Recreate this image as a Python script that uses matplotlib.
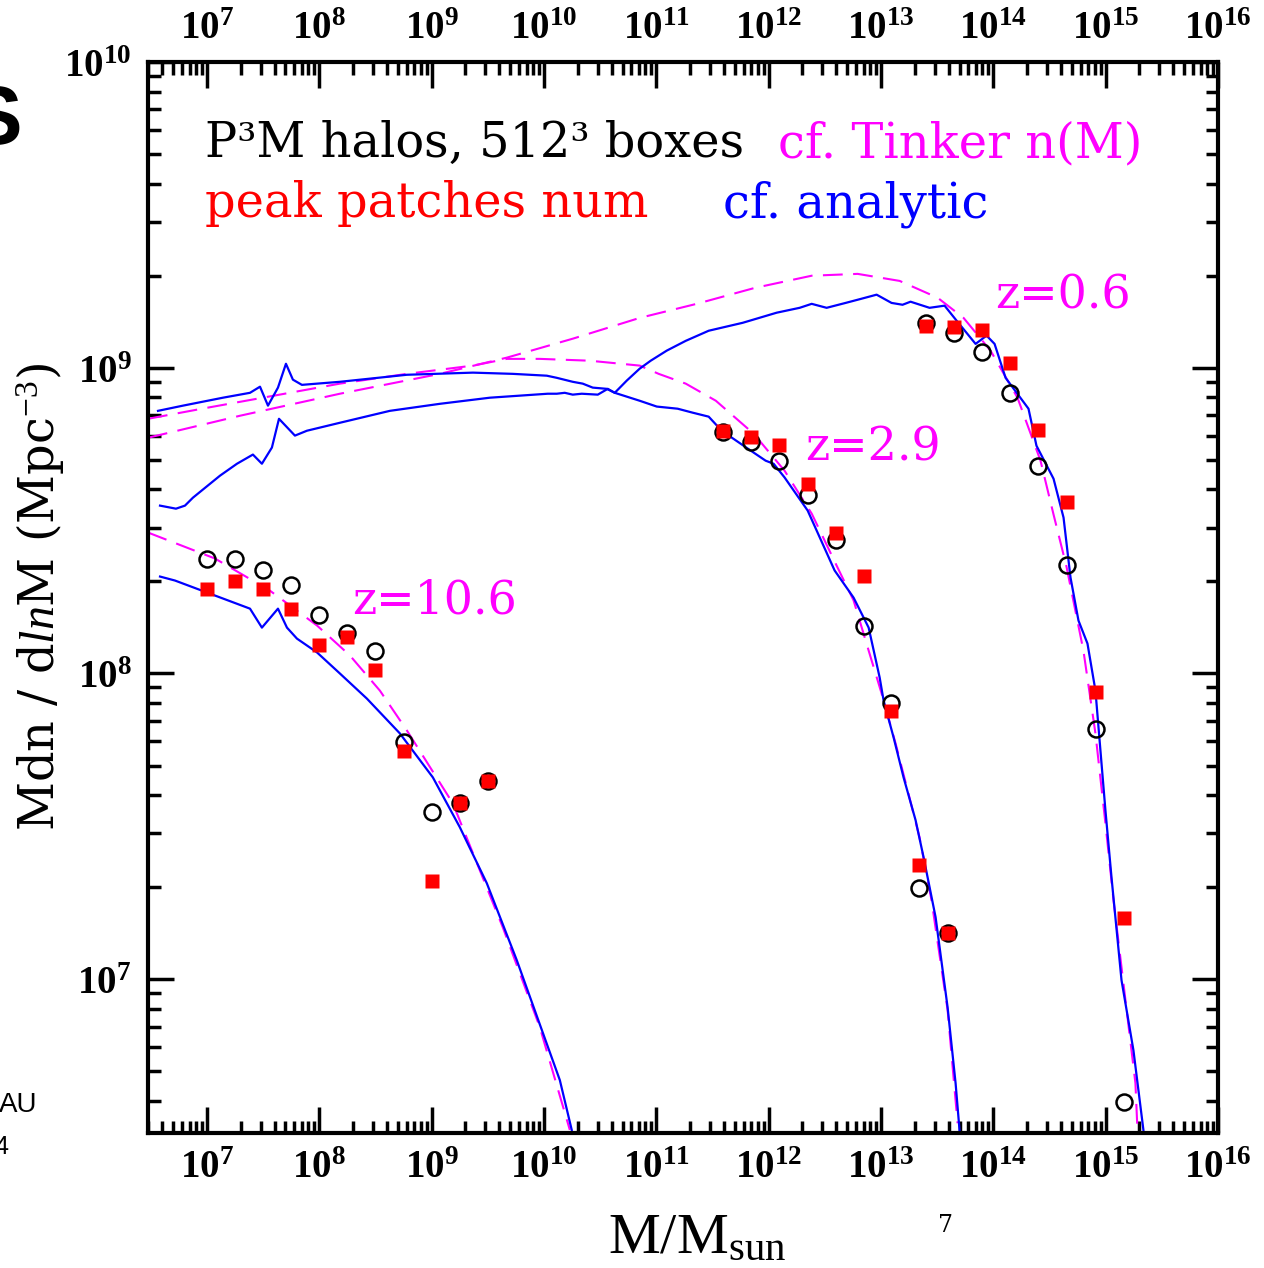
import numpy as np
import matplotlib
matplotlib.use('Agg')
import matplotlib.pyplot as plt
from matplotlib.ticker import LogLocator, FuncFormatter, NullFormatter

plt.rcParams['mathtext.fontset'] = 'custom'
plt.rcParams['mathtext.rm'] = 'Liberation Serif'
plt.rcParams['mathtext.it'] = 'Liberation Serif:italic'
plt.rcParams['mathtext.bf'] = 'Liberation Serif:bold'

# halo counts from the P3M runs (log10 M, log10 M dn/dlnM)
lm_z106 = [7.0, 7.25, 7.5, 7.75, 8.0, 8.25, 8.5, 8.75, 9.0, 9.25, 9.5]
lf_p3m_z106 = [8.373, 8.373, 8.337, 8.291, 8.190, 8.131, 8.072, 7.775, 7.546, 7.575, 7.647]
lf_pk_z106 = [8.275, 8.301, 8.275, 8.212, 8.092, 8.118, 8.010, 7.745, 7.320, 7.575, 7.647]

lm_z29 = [11.59, 11.84, 12.09, 12.35, 12.60, 12.85, 13.09, 13.34, 13.60]
lf_p3m_z29 = [8.791, 8.758, 8.696, 8.585, 8.435, 8.154, 7.902, 7.297, 7.150]
lf_pk_z29 = [8.794, 8.775, 8.748, 8.621, 8.458, 8.320, 7.876, 7.373, 7.150]

lm_z06 = [13.40, 13.65, 13.90, 14.15, 14.40, 14.66, 14.91, 15.16]
lf_p3m_z06 = [9.147, 9.114, 9.052, 8.918, 8.680, 8.356, 7.820, 6.598]
lf_pk_z06 = [9.137, 9.134, 9.124, 9.016, 8.797, 8.562, 7.938, 7.199]

# analytic mass functions
lm_an_z106 = [6.582, 6.715, 7.383, 7.489, 7.632, 7.712, 7.801, 7.979, 8.183, 8.423,
              8.717, 9.011, 9.251, 9.491, 9.758, 10.141, 10.247]
lf_an_z106 = [8.317, 8.304, 8.212, 8.150, 8.212, 8.150, 8.114, 8.069, 8.000, 7.918,
              7.804, 7.660, 7.497, 7.314, 7.062, 6.670, 6.507]

lm_an_z29 = [6.564, 6.786, 7.142, 7.383, 7.472, 7.543, 7.632, 7.703, 7.765, 7.845,
             8.183, 8.779, 9.367, 9.722, 10.025, 10.114, 10.256, 10.345, 10.434, 10.559,
             10.630, 10.852, 11.004, 11.190, 11.324, 11.466, 11.582, 11.840, 11.973, 12.044,
             12.142, 12.347, 12.587, 12.756, 12.890, 12.988, 13.023, 13.112, 13.201, 13.308,
             13.379, 13.486, 13.593, 13.664, 13.699]
lf_an_z29 = [8.859, 8.876, 8.902, 8.918, 8.938, 8.876, 8.935, 9.013, 8.961, 8.944,
             8.954, 8.977, 8.984, 8.980, 8.974, 8.967, 8.954, 8.948, 8.935, 8.931,
             8.918, 8.892, 8.873, 8.866, 8.853, 8.840, 8.794, 8.729, 8.696, 8.686,
             8.641, 8.533, 8.337, 8.248, 8.150, 7.987, 7.912, 7.791, 7.660, 7.520,
             7.399, 7.203, 6.908, 6.660, 6.507]

lm_an_z06 = [6.582, 6.724, 6.804, 6.875, 7.116, 7.267, 7.409, 7.489, 7.578, 7.641,
             7.783, 7.890, 8.183, 8.628, 9.073, 9.518, 10.034, 10.114, 10.185, 10.256,
             10.336, 10.479, 10.568, 10.630, 10.737, 10.852, 10.950, 11.093, 11.262, 11.466,
             11.769, 12.071, 12.276, 12.383, 12.516, 12.685, 12.819, 12.961, 13.094, 13.192,
             13.263, 13.432, 13.566, 13.673, 13.842, 13.940, 14.011, 14.109, 14.313, 14.384,
             14.536, 14.625, 14.687, 14.758, 14.838, 14.909, 14.998, 15.052, 15.141, 15.247,
             15.336]
lf_an_z06 = [8.549, 8.539, 8.549, 8.575, 8.647, 8.686, 8.716, 8.686, 8.739, 8.833,
             8.778, 8.794, 8.820, 8.859, 8.882, 8.902, 8.915, 8.915, 8.918, 8.912,
             8.915, 8.912, 8.931, 8.918, 8.958, 8.997, 9.023, 9.056, 9.088, 9.121,
             9.147, 9.180, 9.196, 9.209, 9.196, 9.212, 9.225, 9.239, 9.212, 9.206,
             9.216, 9.196, 9.203, 9.154, 9.078, 9.105, 9.078, 8.967, 8.866, 8.745,
             8.637, 8.510, 8.314, 8.173, 8.098, 7.944, 7.552, 7.333, 6.997, 6.768,
             6.507]

# Tinker et al. fits
lm_tk_z106 = [6.475, 7.071, 7.560, 7.979, 8.272, 8.539, 8.779, 9.189, 9.633, 9.963, 10.230]
lf_tk_z106 = [8.461, 8.376, 8.271, 8.157, 8.059, 7.944, 7.814, 7.575, 7.170, 6.843, 6.507]

lm_tk_z29 = [6.475, 7.0, 7.587, 8.183, 8.779, 9.367, 9.669, 9.963, 10.407, 10.852,
             11.021, 11.262, 11.530, 11.867, 12.142, 12.383, 12.614, 12.756, 12.890, 13.005,
             13.130, 13.237, 13.343, 13.450, 13.593, 13.682]
lf_tk_z29 = [8.833, 8.869, 8.908, 8.948, 8.980, 9.007, 9.029, 9.029, 9.023, 9.007,
             8.980, 8.948, 8.892, 8.784, 8.663, 8.523, 8.346, 8.239, 8.075, 7.935,
             7.771, 7.618, 7.464, 7.258, 6.899, 6.529]

lm_tk_z06 = [6.475, 7.294, 8.183, 9.073, 9.669, 10.256, 10.852, 11.359, 11.875, 12.383,
             12.792, 13.166, 13.504, 13.735, 13.975, 14.215, 14.420, 14.536, 14.651, 14.802,
             14.909, 14.998, 15.070, 15.158, 15.265, 15.283]
lf_tk_z06 = [8.771, 8.843, 8.915, 8.980, 9.033, 9.095, 9.163, 9.209, 9.261, 9.301,
             9.307, 9.284, 9.229, 9.163, 9.056, 8.902, 8.696, 8.520, 8.350, 8.075,
             7.804, 7.510, 7.258, 6.987, 6.660, 6.507]

fig = plt.figure(figsize=(12.64, 12.68), dpi=100)
ax = fig.add_axes([148/1264, 135/1268, 1070/1264, 1071/1268])
ax.set_xscale('log')
ax.set_yscale('log')
ax.set_xlim(10**6.475, 1e16)
ax.set_ylim(10**6.497, 1e10)

dash = (9.5, 5)
for lm, lf in [(lm_tk_z106, lf_tk_z106), (lm_tk_z29, lf_tk_z29), (lm_tk_z06, lf_tk_z06)]:
    ax.plot(10**np.array(lm), 10**np.array(lf), color='#ff00ff', lw=1.5, dashes=dash)
for lm, lf in [(lm_an_z106, lf_an_z106), (lm_an_z29, lf_an_z29), (lm_an_z06, lf_an_z06)]:
    ax.plot(10**np.array(lm), 10**np.array(lf), color='#0000ff', lw=1.6)

for lm, lp, lk in [(lm_z106, lf_p3m_z106, lf_pk_z106), (lm_z29, lf_p3m_z29, lf_pk_z29),
                   (lm_z06, lf_p3m_z06, lf_pk_z06)]:
    m = 10**np.array(lm)
    ax.plot(m, 10**np.array(lp), 'o', ms=11.5, mfc='none', mec='black', mew=1.8, zorder=4)
    ax.plot(m, 10**np.array(lk), 's', ms=9.5, mfc='#ff0000', mec='none', zorder=5)

# axes frame and ticks
for s in ax.spines.values():
    s.set_linewidth(3)
ax.xaxis.set_major_locator(LogLocator(base=10, numticks=20))
ax.xaxis.set_minor_locator(LogLocator(base=10, subs=np.arange(2, 10), numticks=20))
ax.yaxis.set_major_locator(LogLocator(base=10, numticks=20))
ax.yaxis.set_minor_locator(LogLocator(base=10, subs=np.arange(2, 10), numticks=20))
ax.xaxis.set_minor_formatter(NullFormatter())
ax.yaxis.set_minor_formatter(NullFormatter())
fmt = FuncFormatter(lambda v, p: r'$\mathbf{10^{%d}}$' % round(np.log10(v)))
ax.xaxis.set_major_formatter(fmt)
ax.yaxis.set_major_formatter(fmt)
ax.tick_params(which='both', direction='in', top=True, right=True, labeltop=True,
               width=2.5, labelsize=28)
ax.tick_params(which='major', length=19)
ax.tick_params(which='minor', length=9)
ax.tick_params(axis='x', pad=11)
ax.tick_params(axis='y', pad=12)

tkw = dict(transform=ax.transAxes, fontsize=34.5, family='DejaVu Serif', va='baseline')
ax.text(0.053, 0.911, 'P³M halos, 512³ boxes', color='black', **tkw)
ax.text(0.589, 0.911, 'cf. Tinker n(M)', color='#ff00ff', **tkw)
ax.text(0.053, 0.855, 'peak patches num', color='#ff0000', **tkw)
ax.text(0.537, 0.855, 'cf. analytic', color='#0000ff', **tkw)
zkw = dict(tkw, fontsize=33)
ax.text(0.792, 0.770, 'z=0.6', color='#ff00ff', **zkw)
ax.text(0.614, 0.628, 'z=2.9', color='#ff00ff', **zkw)
ax.text(0.191, 0.4855, 'z=10.6', color='#ff00ff', **zkw)

fig.text(40/1264, 1 - 597/1268, r'Mdn / d$\mathit{ln}$M (Mpc$^{-3}$)', rotation=90,
         ha='center', va='center', fontsize=34.5, family='DejaVu Serif')
fig.text(697/1264, 15/1268, r'$\mathrm{M/M_{sun}}$', ha='center', va='baseline', fontsize=42)

# bits of the surrounding slide
fig.text(22/1264, 1 - 122/1268, 'S', ha='right', va='center', fontsize=60,
         fontweight='bold', family='Liberation Sans')
fig.text(37/1264, 1 - 1105/1268, 'AU', ha='right', va='center', fontsize=20,
         family='Liberation Sans')
fig.text(8/1264, 1 - 1147/1268, '4', ha='right', va='center', fontsize=18,
         family='Liberation Sans')
fig.text(945/1264, 1 - 1225/1268, '7', ha='center', va='center', fontsize=17,
         family='DejaVu Serif')

fig.savefig('out.png', dpi=100)
